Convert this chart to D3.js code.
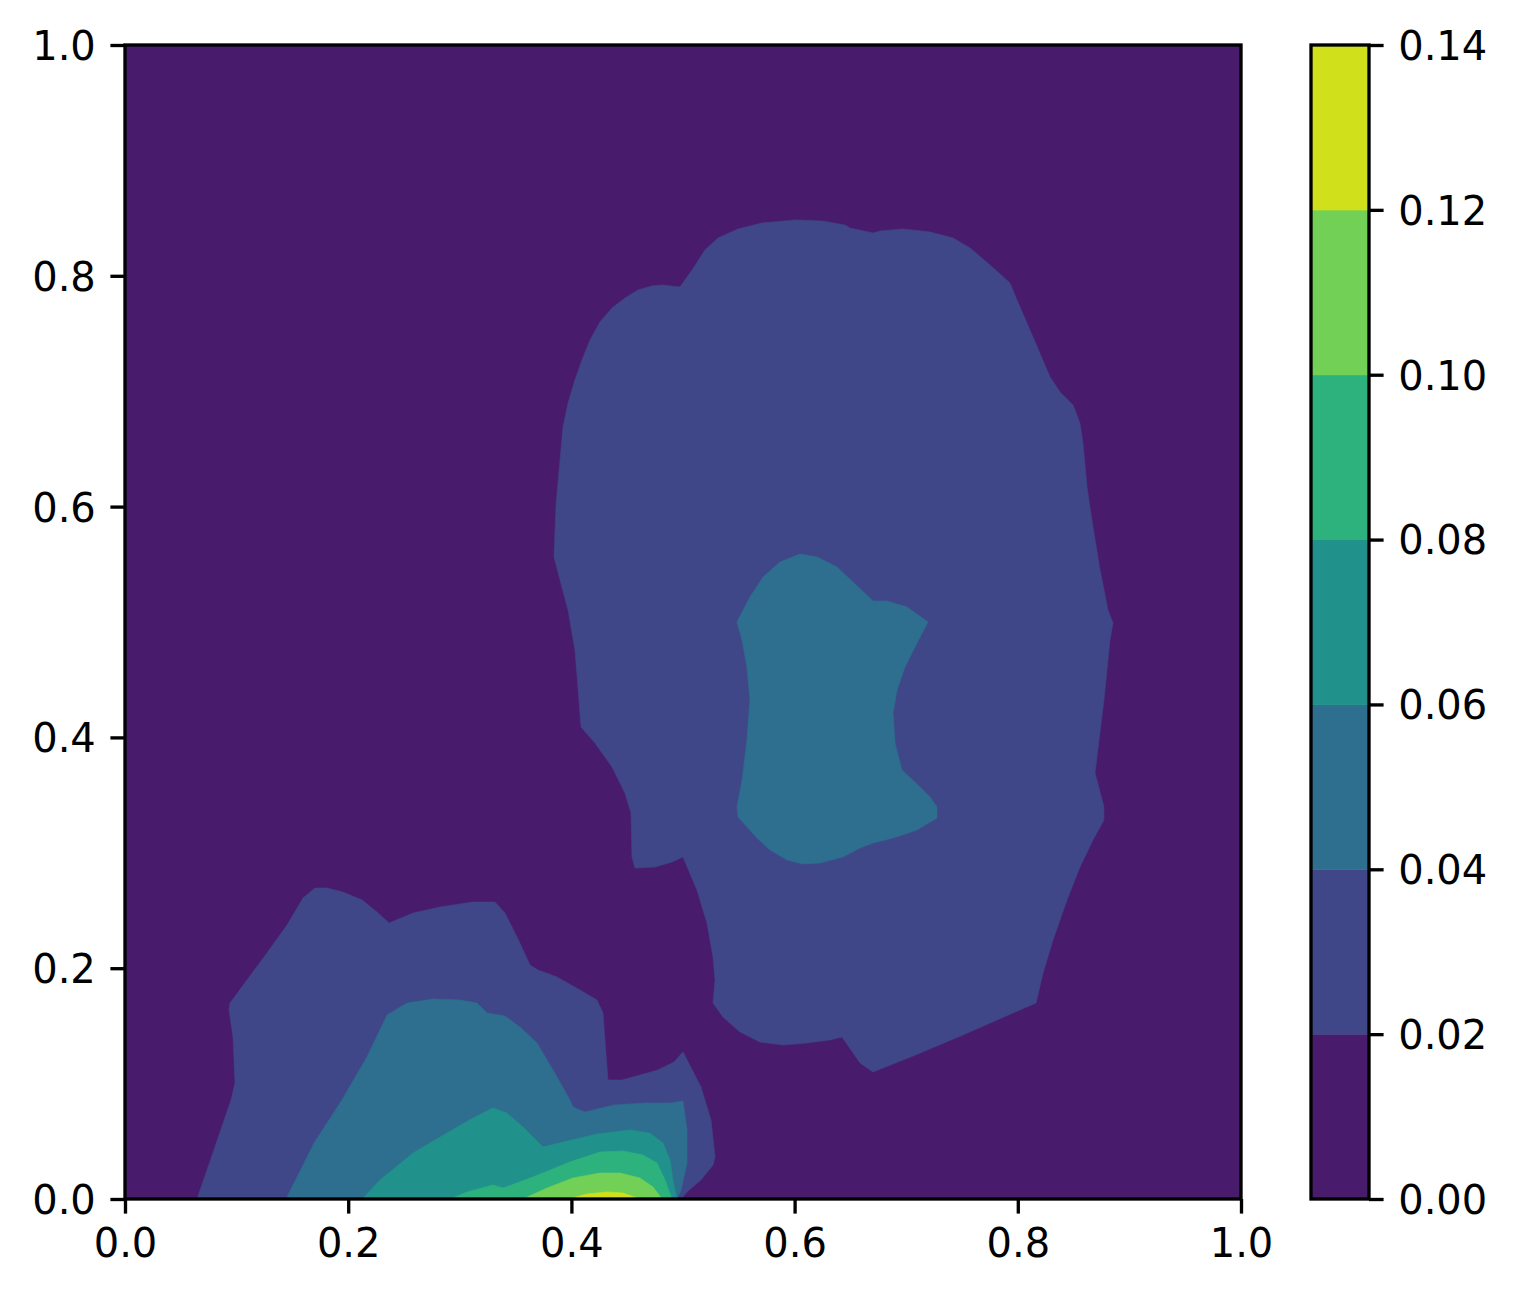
<!DOCTYPE html>
<html>
<head>
<meta charset="utf-8">
<script src="https://cdn.jsdelivr.net/npm/d3@7"></script>
<style>
  html, body { margin: 0; padding: 0; background: #ffffff; }
  svg { display: block; }
  text { font-family: "DejaVu Sans", sans-serif; }
</style>
</head>
<body>
<svg id="chart" width="1520" height="1299"></svg>
<script>
// ---------- data ----------
const levels = [0, 0.02, 0.04, 0.06, 0.08, 0.10, 0.12, 0.14];
const xTicks = [0, 0.2, 0.4, 0.6, 0.8, 1.0];
const yTicks = [0, 0.2, 0.4, 0.6, 0.8, 1.0];
const colorbarTicks = [0, 0.02, 0.04, 0.06, 0.08, 0.10, 0.12, 0.14];

// contour region boundaries, [x, y] in data units
// >= 0.02, upper-right blob
const band1Upper = [
  [0.4973,0.7903],[0.5081,0.8050],[0.5197,0.8224],[0.5314,0.8328],[0.5493,0.8406],
  [0.5708,0.8458],[0.6004,0.8484],[0.6246,0.8475],[0.6452,0.8440],[0.6496,0.8414],
  [0.6703,0.8371],[0.6765,0.8388],[0.6971,0.8406],[0.7213,0.8380],[0.7419,0.8328],
  [0.7572,0.8241],[0.7751,0.8094],[0.7930,0.7938],[0.7993,0.7790],[0.8109,0.7530],
  [0.8289,0.7123],[0.8378,0.6993],[0.8495,0.6880],[0.8557,0.6724],[0.8584,0.6551],
  [0.8620,0.6170],[0.8674,0.5823],[0.8737,0.5451],[0.8808,0.5104],[0.8853,0.4991],
  [0.8826,0.4844],[0.8772,0.4324],[0.8692,0.3692],[0.8772,0.3397],[0.8772,0.3284],
  [0.8674,0.3111],[0.8557,0.2877],[0.8441,0.2591],[0.8315,0.2244],[0.8226,0.1958],
  [0.8163,0.1698],[0.7957,0.1612],[0.7509,0.1421],[0.7061,0.1239],[0.6703,0.1101],
  [0.6586,0.1179],[0.6425,0.1404],[0.6317,0.1378],[0.6111,0.1352],[0.5896,0.1334],
  [0.5690,0.1360],[0.5511,0.1447],[0.5358,0.1577],[0.5269,0.1698],[0.5287,0.1898],
  [0.5269,0.2097],[0.5215,0.2392],[0.5125,0.2678],[0.5000,0.2964],[0.4901,0.2920],
  [0.4749,0.2877],[0.4570,0.2868],[0.4543,0.2964],[0.4534,0.3345],[0.4480,0.3518],
  [0.4364,0.3744],[0.4211,0.3951],[0.4086,0.4090],[0.4059,0.4437],[0.4032,0.4757],
  [0.3970,0.5104],[0.3898,0.5364],[0.3844,0.5563],[0.3862,0.6014],[0.3898,0.6404],
  [0.3925,0.6690],[0.3970,0.6898],[0.4032,0.7097],[0.4095,0.7270],[0.4167,0.7444],
  [0.4256,0.7600],[0.4364,0.7721],[0.4480,0.7808],[0.4597,0.7877],[0.4722,0.7912],
  [0.4812,0.7920]
];
// >= 0.02, lower-left region
const band1Lower = [
  [0.0645,0.0000],[0.0806,0.0451],[0.0950,0.0858],[0.0986,0.1005],[0.0968,0.1404],
  [0.0932,0.1638],[0.0941,0.1698],[0.1093,0.1898],[0.1272,0.2132],[0.1452,0.2374],
  [0.1595,0.2608],[0.1703,0.2695],[0.1810,0.2695],[0.1953,0.2660],[0.2124,0.2591],
  [0.2258,0.2487],[0.2366,0.2392],[0.2581,0.2478],[0.2823,0.2530],[0.3118,0.2574],
  [0.3315,0.2574],[0.3405,0.2478],[0.3513,0.2270],[0.3629,0.2028],[0.3701,0.1984],
  [0.3871,0.1924],[0.4077,0.1811],[0.4229,0.1724],[0.4283,0.1612],[0.4328,0.1031],
  [0.4453,0.1031],[0.4776,0.1118],[0.4919,0.1187],[0.5000,0.1274],[0.5161,0.0971],
  [0.5251,0.0685],[0.5287,0.0364],[0.5269,0.0295],[0.5161,0.0165],[0.5054,0.0078],
  [0.4982,0.0000]
];
// >= 0.04, upper-right blob
const band2Upper = [
  [0.5484,0.5000],[0.5600,0.5217],[0.5717,0.5390],[0.5869,0.5520],[0.6048,0.5589],
  [0.6201,0.5563],[0.6380,0.5477],[0.6523,0.5347],[0.6703,0.5182],[0.6828,0.5182],
  [0.7007,0.5130],[0.7195,0.5000],[0.7097,0.4818],[0.6989,0.4610],[0.6918,0.4411],
  [0.6882,0.4211],[0.6900,0.3951],[0.6962,0.3718],[0.7106,0.3588],[0.7213,0.3484],
  [0.7276,0.3397],[0.7276,0.3302],[0.7097,0.3198],[0.6882,0.3128],[0.6703,0.3085],
  [0.6586,0.3042],[0.6434,0.2964],[0.6228,0.2912],[0.6075,0.2903],[0.5932,0.2938],
  [0.5780,0.3024],[0.5663,0.3128],[0.5493,0.3310],[0.5484,0.3397],[0.5529,0.3631],
  [0.5573,0.3977],[0.5600,0.4324],[0.5573,0.4610],[0.5529,0.4844]
];
// >= 0.04, lower-left region
const band2Lower = [
  [0.1443,0.0000],[0.1694,0.0485],[0.1944,0.0858],[0.2168,0.1231],[0.2348,0.1594],
  [0.2527,0.1698],[0.2760,0.1733],[0.3002,0.1724],[0.3154,0.1698],[0.3244,0.1612],
  [0.3405,0.1586],[0.3539,0.1490],[0.3692,0.1352],[0.3835,0.1118],[0.3987,0.0858],
  [0.4014,0.0797],[0.4122,0.0754],[0.4382,0.0815],[0.4668,0.0832],[0.4884,0.0832],
  [0.5000,0.0849],[0.5036,0.0598],[0.5036,0.0312],[0.4982,0.0078],[0.4946,0.0000]
];
// >= 0.06
const band3 = [
  [0.2124,0.0000],[0.2285,0.0165],[0.2581,0.0399],[0.2885,0.0572],[0.3118,0.0702],
  [0.3297,0.0789],[0.3423,0.0745],[0.3566,0.0624],[0.3746,0.0451],[0.3925,0.0494],
  [0.4229,0.0563],[0.4525,0.0598],[0.4704,0.0572],[0.4821,0.0485],[0.4884,0.0338],
  [0.4910,0.0165],[0.4946,0.0000]
];
// >= 0.08
const band4 = [
  [0.2912,0.0000],[0.3065,0.0061],[0.3297,0.0121],[0.3387,0.0095],[0.3656,0.0191],
  [0.3987,0.0321],[0.4256,0.0407],[0.4462,0.0416],[0.4642,0.0381],[0.4767,0.0312],
  [0.4839,0.0165],[0.4901,0.0000]
];
// >= 0.10
const band5 = [
  [0.3566,0.0000],[0.3781,0.0095],[0.4014,0.0182],[0.4256,0.0225],[0.4435,0.0225],
  [0.4615,0.0182],[0.4731,0.0104],[0.4812,0.0000]
];
// >= 0.12
const band6 = [
  [0.3970,0.0000],[0.4140,0.0043],[0.4319,0.0061],[0.4462,0.0052],[0.4615,0.0000]
];

// regions grouped by the band index they start (band k fills values >= levels[k])
const bandRegions = [
  {band: 1, polys: [band1Upper, band1Lower]},
  {band: 2, polys: [band2Upper, band2Lower]},
  {band: 3, polys: [band3]},
  {band: 4, polys: [band4]},
  {band: 5, polys: [band5]},
  {band: 6, polys: [band6]}
];

// ---------- layout ----------
const plot = {left: 125, top: 45, right: 1241, bottom: 1199};
const cbar = {left: 1311, right: 1369, top: 45, bottom: 1199};
const fontSize = 40;
const lw = 3.33;
const tickLen = 14.6;
const tickPad = 14.6;

const svg = d3.select("#chart");

const x = d3.scaleLinear().domain([0, 1]).range([plot.left, plot.right]);
const y = d3.scaleLinear().domain([0, 1]).range([plot.bottom, plot.top]);

const bandColor = i => d3.interpolateViridis((2 * i + 1) / 14);

svg.append("defs").append("clipPath").attr("id", "plotClip")
  .append("rect")
  .attr("x", plot.left).attr("y", plot.top)
  .attr("width", plot.right - plot.left).attr("height", plot.bottom - plot.top);

const g = svg.append("g").attr("clip-path", "url(#plotClip)");

// background band (0.00 - 0.02)
g.append("rect")
  .attr("x", x(0)).attr("y", y(1))
  .attr("width", x(1) - x(0)).attr("height", y(0) - y(1))
  .attr("fill", bandColor(0));

const line = d3.line().x(d => x(d[0])).y(d => y(d[1])).curve(d3.curveLinearClosed);

bandRegions.forEach(r => {
  g.selectAll(null).data(r.polys).enter().append("path")
    .attr("d", line)
    .attr("fill", bandColor(r.band))
    .attr("stroke", bandColor(r.band))
    .attr("stroke-width", 0.6)
    .attr("stroke-linejoin", "round");
});

// axes
const xAxis = d3.axisBottom(x).tickValues(xTicks).tickFormat(d3.format(".1f"))
  .tickSizeInner(tickLen).tickSizeOuter(0).tickPadding(tickPad);
const yAxis = d3.axisLeft(y).tickValues(yTicks).tickFormat(d3.format(".1f"))
  .tickSizeInner(tickLen).tickSizeOuter(0).tickPadding(tickPad);

const gx = svg.append("g").attr("transform", `translate(0,${plot.bottom})`).call(xAxis);
const gy = svg.append("g").attr("transform", `translate(${plot.left},0)`).call(yAxis);

[gx, gy].forEach(a => {
  a.select(".domain").remove();
  a.selectAll(".tick line").attr("stroke", "#000").attr("stroke-width", lw);
  a.selectAll(".tick text").attr("fill", "#000").style("font-size", fontSize + "px")
    .style("font-family", "'DejaVu Sans', sans-serif");
});
gx.selectAll(".tick text").attr("dy", "0.72em");
gy.selectAll(".tick text").attr("dy", "0.36em");

// plot frame
svg.append("rect")
  .attr("x", plot.left).attr("y", plot.top)
  .attr("width", plot.right - plot.left).attr("height", plot.bottom - plot.top)
  .attr("fill", "none").attr("stroke", "#000").attr("stroke-width", lw);

// ---------- colorbar ----------
const cy = d3.scaleLinear().domain([levels[0], levels[levels.length - 1]])
  .range([cbar.bottom, cbar.top]);

svg.append("g").selectAll("rect")
  .data(d3.range(levels.length - 1))
  .enter().append("rect")
  .attr("x", cbar.left)
  .attr("y", i => cy(levels[i + 1]))
  .attr("width", cbar.right - cbar.left)
  .attr("height", i => cy(levels[i]) - cy(levels[i + 1]) + 0.5)
  .attr("fill", i => bandColor(i));

const cAxis = d3.axisRight(cy).tickValues(colorbarTicks).tickFormat(d3.format(".2f"))
  .tickSizeInner(tickLen).tickSizeOuter(0).tickPadding(tickPad);
const gc = svg.append("g").attr("transform", `translate(${cbar.right},0)`).call(cAxis);
gc.select(".domain").remove();
gc.selectAll(".tick line").attr("stroke", "#000").attr("stroke-width", lw);
gc.selectAll(".tick text").attr("fill", "#000").style("font-size", fontSize + "px")
  .style("font-family", "'DejaVu Sans', sans-serif").attr("dy", "0.36em");

svg.append("rect")
  .attr("x", cbar.left).attr("y", cbar.top)
  .attr("width", cbar.right - cbar.left).attr("height", cbar.bottom - cbar.top)
  .attr("fill", "none").attr("stroke", "#000").attr("stroke-width", lw);
</script>
</body>
</html>
